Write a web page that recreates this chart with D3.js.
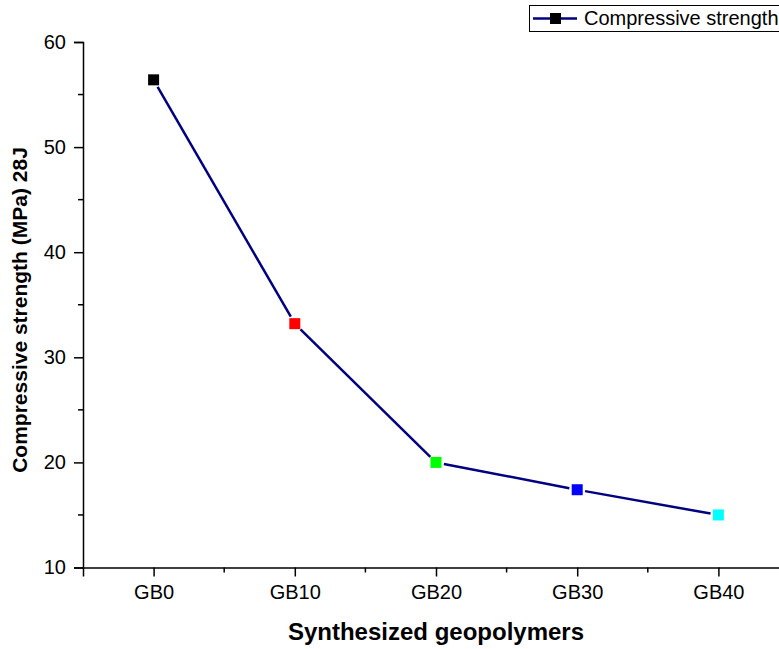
<!DOCTYPE html>
<html>
<head>
<meta charset="utf-8">
<script src="https://cdn.jsdelivr.net/npm/d3@7"></script>
<style>
  html, body { margin: 0; padding: 0; background: #fff; overflow: hidden; }
  text { font-family: Arial, "Liberation Sans", sans-serif; fill: #000; }
</style>
</head>
<body>
<div id="container"></div>
<script>
// data
const categories = ['GB0', 'GB10', 'GB20', 'GB30', 'GB40'];
const strength = [56.4, 33.2, 20.0, 17.4, 15.0];
const markerColors = ['#000000', '#ff0000', '#00ff00', '#0000ff', '#00ffff'];
const yTicks = [10, 20, 30, 40, 50, 60];

const width = 779;
const height = 649;

const svg = d3.select('#container')
  .append('svg')
  .attr('width', width)
  .attr('height', height);

// scales (x runs half a step beyond each end, like the original)
const xScale = d3.scaleLinear()
  .domain([-0.5, categories.length - 0.5])
  .range([83, 789]);

const yScale = d3.scaleLinear()
  .domain([10, 60])
  .range([567.5, 42]);

// y axis
const yAxis = d3.axisLeft(yScale)
  .tickValues(yTicks)
  .tickSize(9)
  .tickPadding(8)
  .tickFormat(d3.format('d'));

const yG = svg.append('g')
  .attr('transform', `translate(${xScale(-0.5)},0)`)
  .call(yAxis);

// minor y ticks
yG.selectAll('.minor')
  .data(d3.range(15, 60, 10))
  .join('line')
  .attr('class', 'minor')
  .attr('x1', -5).attr('x2', 0)
  .attr('y1', d => yScale(d)).attr('y2', d => yScale(d))
  .attr('stroke', '#000').attr('stroke-width', 1.5);

// x axis
const xAxis = d3.axisBottom(xScale)
  .tickValues(d3.range(categories.length))
  .tickSize(9)
  .tickPadding(8)
  .tickFormat(i => categories[i]);

const xG = svg.append('g')
  .attr('transform', `translate(0,${yScale(10)})`)
  .call(xAxis);

xG.selectAll('.minor')
  .data(d3.range(-0.5, categories.length, 1).filter(d => d > -0.5))
  .join('line')
  .attr('class', 'minor')
  .attr('y1', 0).attr('y2', 5)
  .attr('x1', d => xScale(d)).attr('x2', d => xScale(d))
  .attr('stroke', '#000').attr('stroke-width', 1.5);

svg.selectAll('.domain').attr('stroke', '#000').attr('stroke-width', 1.5);
svg.selectAll('.tick line').attr('stroke', '#000').attr('stroke-width', 1.5);
svg.selectAll('.tick text')
  .style('font-size', '20px')
  .style('font-family', 'Arial, "Liberation Sans", sans-serif')
  .attr('fill', '#000');

// line segments, stopping short of the markers
const pts = strength.map((v, i) => [xScale(i), yScale(v)]);
const gap = 8;
const segs = d3.pairs(pts).map(([a, b]) => {
  const dx = b[0] - a[0], dy = b[1] - a[1];
  const len = Math.hypot(dx, dy);
  const ux = dx / len, uy = dy / len;
  return [[a[0] + ux * gap, a[1] + uy * gap], [b[0] - ux * gap, b[1] - uy * gap]];
});

svg.append('g')
  .selectAll('path')
  .data(segs)
  .join('path')
  .attr('d', d => d3.line()(d))
  .attr('fill', 'none')
  .attr('stroke', '#000080')
  .attr('stroke-width', 2.5);

// markers
const ms = 11;
svg.append('g')
  .selectAll('rect')
  .data(strength)
  .join('rect')
  .attr('x', (d, i) => xScale(i) - ms / 2)
  .attr('y', d => yScale(d) - ms / 2)
  .attr('width', ms)
  .attr('height', ms)
  .attr('fill', (d, i) => markerColors[i]);

// axis titles
svg.append('text')
  .attr('x', 436)
  .attr('y', 640)
  .attr('text-anchor', 'middle')
  .style('font-size', '24px')
  .style('font-weight', 'bold')
  .text('Synthesized geopolymers');

svg.append('text')
  .attr('transform', 'translate(27,310) rotate(-90)')
  .attr('text-anchor', 'middle')
  .style('font-size', '21px')
  .style('font-weight', 'bold')
  .text('Compressive strength (MPa) 28J');

// legend (clipped by the right edge, as in the original)
const legend = svg.append('g');
legend.append('rect')
  .attr('x', 529.5).attr('y', 5.5)
  .attr('width', 270).attr('height', 26)
  .attr('fill', '#fff')
  .attr('stroke', '#000').attr('stroke-width', 1);
legend.append('line')
  .attr('x1', 533).attr('x2', 577)
  .attr('y1', 18.5).attr('y2', 18.5)
  .attr('stroke', '#000080').attr('stroke-width', 2.5);
legend.append('rect')
  .attr('x', 550).attr('y', 13)
  .attr('width', 11).attr('height', 11)
  .attr('fill', '#000');
legend.append('text')
  .attr('x', 584)
  .attr('y', 25)
  .style('font-size', '20px')
  .text('Compressive strength');
</script>
</body>
</html>
